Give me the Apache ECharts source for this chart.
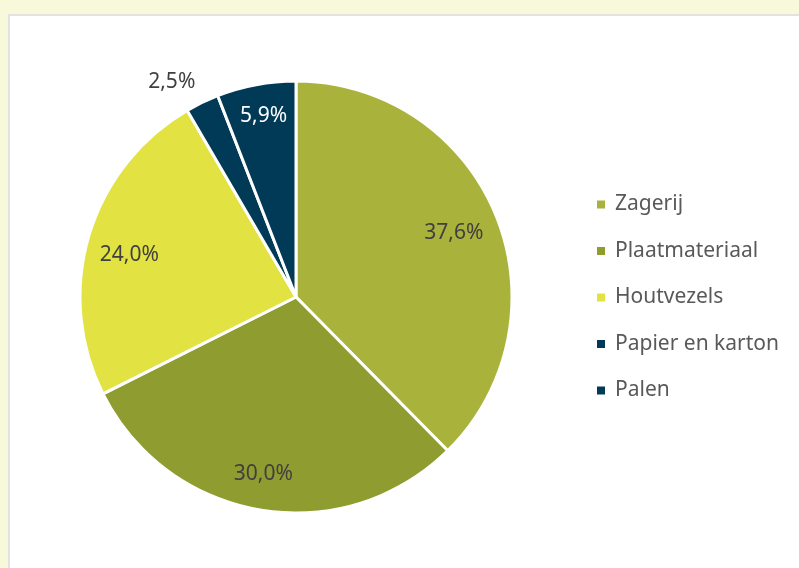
<!DOCTYPE html>
<html lang="nl">
<head>
    <meta charset="UTF-8">
    <title>Houtverbruik per sector</title>
    <script src="https://cdn.jsdelivr.net/npm/echarts@6/dist/echarts.min.js"></script>
</head>
<style>
    html, body{
        margin: 0;
        padding: 0;
        width: 799px;
        height: 568px;
        overflow: hidden;
        background-color: #f8f8db;
    }
    .panel{
        position: absolute;
        left: 8px;
        top: 14px;
        width: 820px;
        height: 600px;
        background-color: #fff;
        border-left: 2px solid #e2e2e2;
        border-top: 2px solid #e2e2e2;
    }
    #chart{
        position: absolute;
        left: 0;
        top: 0;
        width: 799px;
        height: 568px;
    }
</style>
<body>
    <div class="panel"></div>
    <div id="chart"></div>
<script>
    // sectoren en aandeel (%)
    var categories = ['Zagerij', 'Plaatmateriaal', 'Houtvezels', 'Papier en karton', 'Palen'];
    var shares = [37.6, 30.0, 24.0, 2.5, 5.9];
    var colors = ['#a9b23a', '#8f9c2f', '#e2e242', '#013a57', '#013a57'];
    var labelColors = ['#404040', '#404040', '#404040', '#404040', '#ffffff'];
    var outsideLabel = [false, false, false, true, false];
    // kleine verschuiving van de labels (px), zoals in het origineel
    var labelNudge = [[-5, 3], [-4, 3], [2, 8], [0, 0], [0, -8]];

    var chart = echarts.init(document.getElementById('chart'));

    function fmt(v) {
        return v.toFixed(1).replace('.', ',') + '%';
    }

    var mainData = [], labelData = [];
    for (var i = 0; i < categories.length; i++) {
        mainData.push({
            name: categories[i],
            value: shares[i],
            itemStyle: {color: colors[i]},
            label: {show: outsideLabel[i]}
        });
        labelData.push({
            name: categories[i],
            value: shares[i],
            label: {show: !outsideLabel[i], color: labelColors[i]}
        });
    }

    var option = {
        animation: false,
        legend: {
            orient: 'vertical',
            left: 590,
            top: 189,
            icon: 'rect',
            itemWidth: 10,
            itemHeight: 10,
            itemGap: 25.5,
            textStyle: {
                fontFamily: 'Noto Sans',
                fontSize: 21,
                color: '#595959',
                padding: [0, 0, 0, 4]
            },
            data: categories
        },
        series: [{
            type: 'pie',
            center: [296, 297],
            radius: 216,
            startAngle: 90,
            itemStyle: {borderColor: '#fff', borderWidth: 3},
            label: {
                position: 'outside',
                fontFamily: 'Noto Sans',
                fontSize: 21,
                color: '#404040',
                formatter: function (p) { return fmt(p.value); }
            },
            labelLine: {show: false, length: 25, length2: 0},
            labelLayout: {dx: 9, dy: 2},
            emphasis: {disabled: true},
            data: mainData
        }, {
            // alleen voor de labels binnen de taartpunten
            type: 'pie',
            center: [296, 297],
            radius: [130, 216],
            startAngle: 90,
            silent: true,
            itemStyle: {color: 'rgba(0,0,0,0)', borderWidth: 0},
            label: {
                position: 'inside',
                fontFamily: 'Noto Sans',
                fontSize: 21,
                formatter: function (p) { return fmt(p.value); }
            },
            labelLine: {show: false},
            labelLayout: function (p) {
                return {dx: labelNudge[p.dataIndex][0], dy: labelNudge[p.dataIndex][1]};
            },
            emphasis: {disabled: true},
            data: labelData
        }]
    };
    chart.setOption(option);
</script>
</body>
</html>
